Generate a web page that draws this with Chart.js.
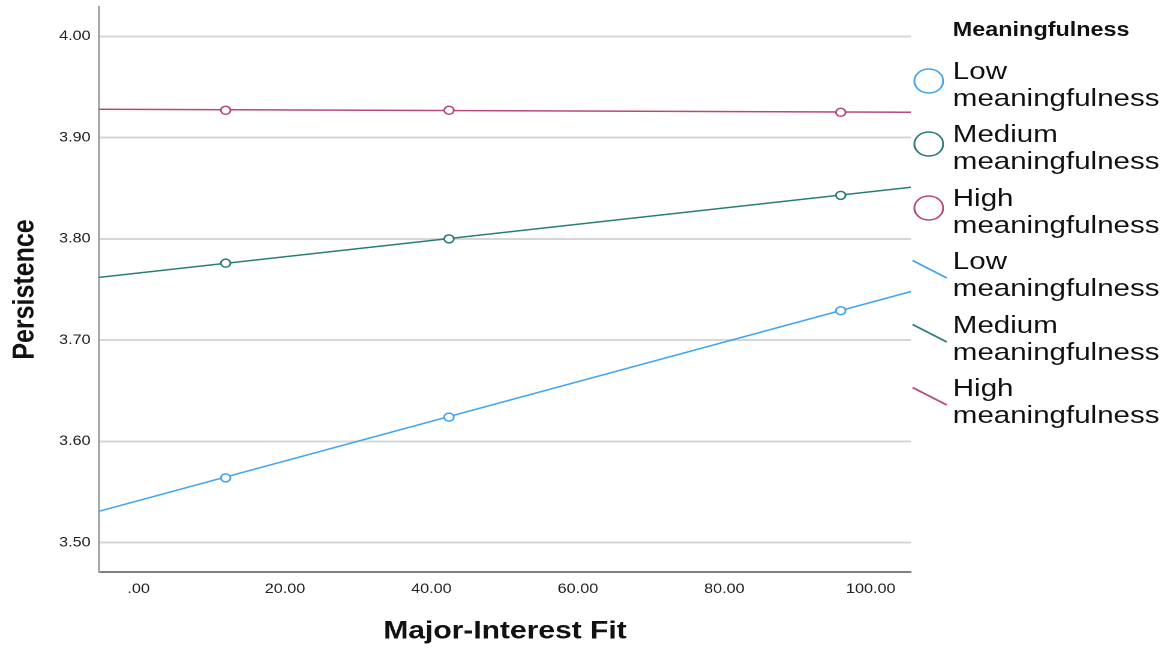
<!DOCTYPE html>
<html>
<head>
<meta charset="utf-8">
<script src="https://cdn.jsdelivr.net/npm/chart.js@4"></script>
<style>
    html, body { margin: 0; padding: 0; background: #fff; overflow: hidden; }
    /* the original output is stretched horizontally, so the whole figure is drawn narrow and widened */
    #figura {
        position: relative;
        width: 976px;
        height: 648px;
        transform: scaleX(1.2);
        transform-origin: 0 0;
        font-family: "Liberation Sans", Arial, sans-serif;
        color: #111;
    }
    #legenda { position: absolute; left: 0; top: 0; }
    #legenda .titulo {
        position: absolute; left: 794px; top: 18px;
        font-weight: bold; font-size: 19.5px; line-height: 22px; white-space: nowrap;
    }
    #legenda .item {
        position: absolute; left: 794px;
        font-size: 24.6px; line-height: 27px; white-space: nowrap;
    }
    #legenda svg { position: absolute; overflow: visible; }
</style>
</head>
<body>
<div id="figura">
    <canvas id="grafico"></canvas>
    <div id="legenda"></div>
</div>
<script>
// ===== DADOS =====
const grupos = ["Low meaningfulness", "Medium meaningfulness", "High meaningfulness"];
const cores = ["#42a5f0", "#2b7d79", "#b9477b"];

// group means at three levels of Major-Interest Fit
const xPontos = [11.9, 42.4, 95.9];
const lowPontos = [3.564, 3.624, 3.729];
const mediumPontos = [3.776, 3.800, 3.843];
const highPontos = [3.927, 3.927, 3.925];

// fit lines, read at both ends of the x axis
const xLinha = [-5.4, 105.5];
const lowLinha = [3.531, 3.748];
const mediumLinha = [3.762, 3.851];
const highLinha = [3.928, 3.925];

// axes
const xMin = -5.4, xMax = 105.5, xPasso = 20;
const yMin = 3.471, yMax = 4.029, yPasso = 0.1;

const pontos = [lowPontos, mediumPontos, highPontos];
const linhas = [lowLinha, mediumLinha, highLinha];

const fmt = (v) => Number(v).toFixed(2).replace(/^0\./, ".");

// ===== DATASETS =====
const datasets = [];
pontos.forEach((serie, i) => {
    datasets.push({
        label: grupos[i],
        data: serie.map((y, k) => ({ x: xPontos[k], y: y })),
        showLine: false,
        pointStyle: "circle",
        pointRadius: 4,
        pointBorderWidth: 1.5,
        pointBorderColor: cores[i],
        pointBackgroundColor: "#fff"
    });
});
linhas.forEach((serie, i) => {
    datasets.push({
        label: grupos[i],
        type: "line",
        data: serie.map((y, k) => ({ x: xLinha[k], y: y })),
        showLine: true,
        borderColor: cores[i],
        borderWidth: 1.5,
        pointRadius: 0,
        fill: false
    });
});

// ===== GRÁFICO =====
new Chart(document.getElementById("grafico"), {
    type: "scatter",
    data: { datasets: datasets },
    options: {
        responsive: true,
        maintainAspectRatio: false,
        devicePixelRatio: 2,
        animation: false,
        layout: { padding: { top: 7, right: 216.8, left: 0, bottom: 0 } },
        plugins: { legend: { display: false }, tooltip: { enabled: false } },
        scales: {
            x: {
                type: "linear",
                min: xMin,
                max: xMax,
                afterFit: (s) => { s.height = 76; s.paddingLeft = 0; s.paddingRight = 0; },
                ticks: {
                    stepSize: xPasso,
                    includeBounds: false,
                    padding: 9,
                    color: "#222",
                    font: { family: "Liberation Sans", size: 13.5 },
                    callback: (v) => fmt(v)
                },
                grid: { display: false, drawTicks: false },
                border: { display: true, color: "#808080", width: 2 },
                title: {
                    display: true,
                    text: "Major-Interest Fit",
                    color: "#111",
                    font: { family: "Liberation Sans", size: 25, weight: "bold" },
                    padding: { top: 0, bottom: 1.5 }
                }
            },
            y: {
                type: "linear",
                min: yMin,
                max: yMax,
                afterFit: (s) => { s.width = 82.5; s.paddingTop = 0; s.paddingBottom = 0; },
                ticks: {
                    stepSize: yPasso,
                    includeBounds: false,
                    padding: 7,
                    color: "#222",
                    font: { family: "Liberation Sans", size: 13.5 },
                    callback: (v) => fmt(v)
                },
                grid: { color: "#d6d6d6", lineWidth: 2, drawTicks: false },
                border: { display: true, color: "#a8a8a8", width: 2 },
                title: {
                    display: true,
                    text: "Persistence",
                    color: "#111",
                    font: { family: "Liberation Sans", size: 25, weight: "bold" },
                    padding: { top: 6, bottom: 0 }
                }
            }
        }
    }
});

// ===== LEGENDA =====
const legenda = document.getElementById("legenda");
let html = '<div class="titulo">Meaningfulness</div>';
const topo0 = 57, passo = 63.4;
const itens = [];
grupos.forEach((g, i) => itens.push({ nome: g, cor: cores[i], tipo: "ponto" }));
grupos.forEach((g, i) => itens.push({ nome: g, cor: cores[i], tipo: "linha" }));
itens.forEach((it, n) => {
    const topo = topo0 + n * passo;
    const partes = it.nome.split(" ");
    html += `<div class="item" style="top:${topo}px">${partes[0]}<br>${partes.slice(1).join(" ")}</div>`;
    if (it.tipo === "ponto") {
        html += `<svg style="left:761px;top:${topo + 11}px" width="26" height="26">
            <circle cx="13" cy="13" r="12" fill="none" stroke="${it.cor}" stroke-width="1.6"/></svg>`;
    } else {
        html += `<svg style="left:760px;top:${topo + 13}px" width="30" height="19">
            <line x1="0.5" y1="0.5" x2="29" y2="18" stroke="${it.cor}" stroke-width="1.5"/></svg>`;
    }
});
legenda.innerHTML = html;
</script>
</body>
</html>
